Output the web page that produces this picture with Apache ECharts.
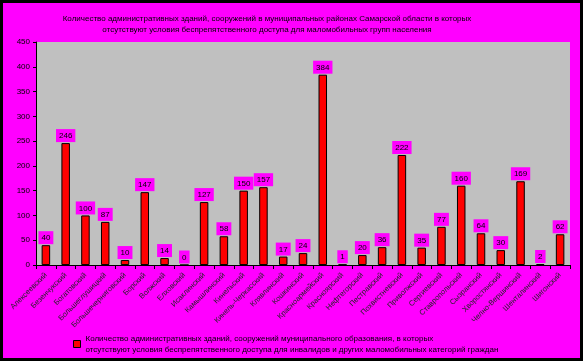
<!DOCTYPE html>
<html><head><meta charset="utf-8">
<script src="https://cdn.jsdelivr.net/npm/echarts@6/dist/echarts.min.js"></script>
<style>html,body{margin:0;padding:0;background:#FF00FF;}#c{width:583px;height:361px;}</style>
</head><body><div id="c"></div>
<script>
const categories = ["Алексеевский","Безенчукский","Богатовский","Большеглушицкий","Большечерниговский","Борский","Волжский","Елховский","Исаклинский","Камышлинский","Кинельский","Кинель-Черкасский","Клявлинский","Кошкинский","Красноармейский","Красноярский","Нефтегорский","Пестравский","Похвистневский","Приволжский","Сергиевский","Ставропольский","Сызранский","Хворостянский","Челно-Вершинский","Шенталинский","Шигонский"];
const values = [40,246,100,87,10,147,14,0,127,58,150,157,17,24,384,1,20,36,222,35,77,160,64,30,169,2,62];
const yTicks = [0,50,100,150,200,250,300,350,400,450];
const titleText = "Количество административных зданий, сооружений в муниципальных районах Самарской области в которых\nотсутствуют условия беспрепятственного доступа для маломобильных групп населения";
const legendText = "Количество административных зданий, сооружений муниципального образования, в которых\nотсутствуют условия беспрепятственного доступа для инвалидов и других маломобильных категорий граждан";

const chart = echarts.init(document.getElementById('c'));
chart.setOption({
  backgroundColor: '#FF00FF',
  animation: false,
  textStyle: {fontFamily: 'Liberation Sans, Arial, sans-serif'},
  title: {
    text: titleText, left: 262, top: 8, textAlign: 'center',
    textStyle: {fontSize: 8, fontWeight: 'normal', color: '#000', lineHeight: 11, align: 'center'}
  },
  graphic: [{
    type: 'rect', shape: {x: 1.5, y: 1.5, width: 580, height: 358},
    style: {fill: 'none', stroke: '#000', lineWidth: 3}, z: 100
  }],
  legend: {
    show: true, left: 68, top: 328, itemWidth: 7, itemHeight: 7, itemGap: 3,
    icon: 'rect',
    textStyle: {fontSize: 8, color: '#000', lineHeight: 11},
    data: [{name: legendText, itemStyle: {color: '#FF0000', borderColor: '#000', borderWidth: 1}}]
  },
  grid: {left: 36, right: 13, top: 42, bottom: 96, show: true, backgroundColor: '#C0C0C0', borderWidth: 0},
  xAxis: {
    type: 'category', data: categories,
    axisLine: {lineStyle: {color: '#000', width: 1}},
    axisTick: {show: true, inside: false, length: 4, lineStyle: {color: '#000'}},
    axisLabel: {interval: 0, rotate: 45, fontSize: 7.5, color: '#222', margin: 9}
  },
  yAxis: {
    type: 'value', min: 0, max: 450, interval: 50,
    axisLine: {show: true, lineStyle: {color: '#000'}},
    axisTick: {show: true, length: 3, lineStyle: {color: '#000'}},
    splitLine: {show: false},
    axisLabel: {fontSize: 8, color: '#000', margin: 6}
  },
  series: [{
    name: legendText, type: 'bar', data: values, barWidth: '43%',
    itemStyle: {color: '#FF0000', borderColor: '#000', borderWidth: 1},
    label: {show: true, position: 'top', distance: 1, fontSize: 8, color: '#000',
      backgroundColor: '#FF00FF', padding: [3, 3, 2, 3]}
  }]
});
</script></body></html>
